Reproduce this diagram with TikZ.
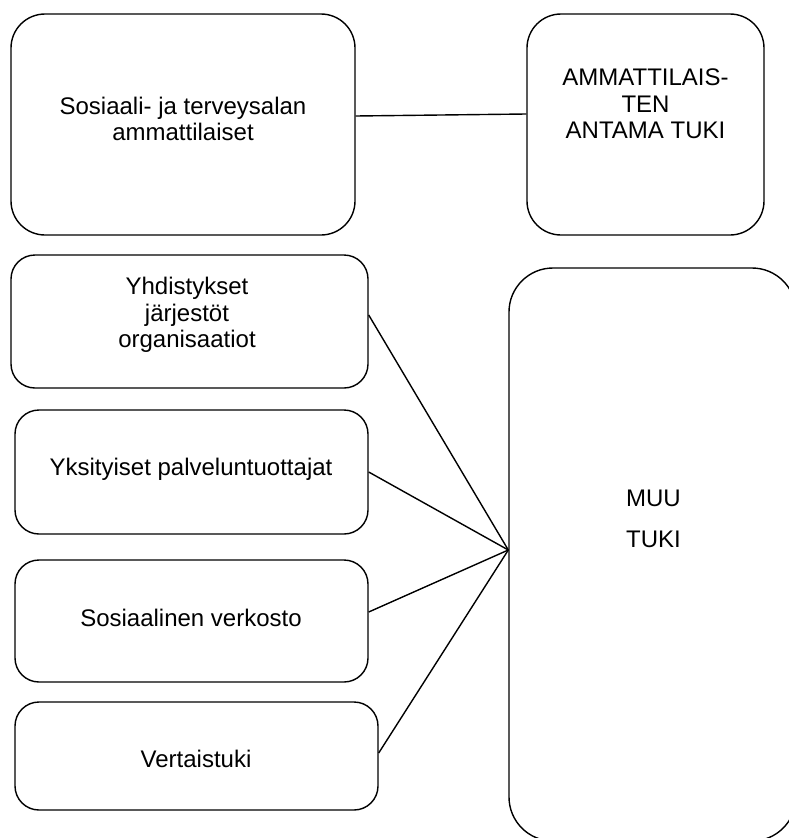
\documentclass[tikz,border=0pt]{standalone}
\usepackage{fontspec}
\setmainfont{Liberation Sans}
\begin{document}
\begin{tikzpicture}[x=1pt,y=-1pt,
  box/.style={draw=black, line width=1.4pt, rectangle, inner sep=0pt},
  lbl/.style={align=center, inner sep=0pt, font=\fontsize{24}{26.5}\selectfont},
  conn/.style={draw=black, line width=1.4pt}]
\useasboundingbox (0,0) rectangle (789,838);
% boxes
\node[box, rounded corners=34pt, minimum width=344pt, minimum height=221pt] (b1) at (183,124.5) {};
\node[box, rounded corners=34pt, minimum width=237pt, minimum height=221pt] (b2) at (645.5,124.5) {};
\node[box, rounded corners=24pt, minimum width=357pt, minimum height=133pt] (b3) at (189.5,321.5) {};
\node[box, rounded corners=24pt, minimum width=353pt, minimum height=124pt] (b4) at (191.5,472) {};
\node[box, rounded corners=24pt, minimum width=353pt, minimum height=122pt] (b5) at (191.5,621) {};
\node[box, rounded corners=24pt, minimum width=363pt, minimum height=108pt] (b6) at (196.5,756) {};
\node[box, rounded corners=44pt, minimum width=287pt, minimum height=573pt] (b7) at (652.5,554.5) {};
% texts
\node[lbl] (t1) at (183,119) {Sosiaali- ja terveysalan\\ammattilaiset};
\node[lbl] (t2) at (645.5,104) {AMMATTILAIS-\\TEN\\ANTAMA TUKI};
\node[lbl] (t3) at (187,315) {Yhdistykset\\järjestöt\\organisaatiot};
\node[lbl] (t4) at (191,469) {Yksityiset palveluntuottajat};
\node[lbl] (t5) at (191,618) {Sosiaalinen verkosto};
\node[lbl] (t6) at (196,758.5) {Vertaistuki};
\node[lbl, font=\fontsize{24}{41}\selectfont] (t7) at (653.5,519) {MUU\\TUKI};
% connectors
\draw[conn] ([yshift=8.5pt]b1.east) -- ([yshift=10.5pt]b2.west);
\coordinate (hub) at ([yshift=4.5pt]b7.west);
\draw[conn] ([yshift=6.5pt]b3.east) -- (hub);
\draw[conn] (b4.east) -- (hub);
\draw[conn] ([yshift=9pt]b5.east) -- (hub);
\draw[conn] ([yshift=3pt]b6.east) -- (hub);
\end{tikzpicture}
\end{document}
